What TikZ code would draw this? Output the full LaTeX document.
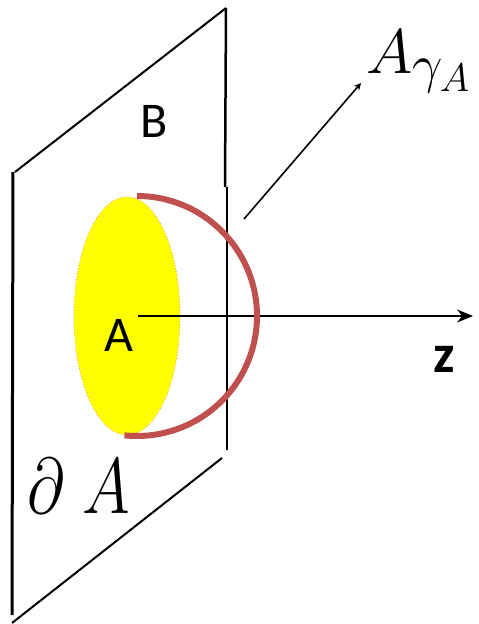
\RequirePackage{fix-cm}
\documentclass[tikz,border=0pt]{standalone}
\usepackage{fontspec}
\newfontfamily\carlito{Carlito}
\DeclareMathSizes{63}{63}{54}{40}
\usetikzlibrary{arrows.meta}
\definecolor{arcred}{RGB}{192,80,77}
\definecolor{diskyellow}{RGB}{255,255,0}
\definecolor{diskedge}{RGB}{240,150,40}
\tikzset{
  planeline/.style={black, line width=2pt},
  sidelabel/.style={font=\carlito\fontsize{50}{56}\selectfont, inner sep=0pt},
  axisline/.style={black, line width=2pt, -{Stealth[length=16pt, width=13pt]}},
  pointer/.style={black, line width=1.6pt, -{Stealth[length=7pt, width=7pt]}},
}
\begin{document}
\begin{tikzpicture}[x=1pt, y=-1pt]
\useasboundingbox (0,0) rectangle (479,624);
% plane
\coordinate (p1) at (13,172);
\coordinate (p2) at (226,8);
\coordinate (p4) at (12,615);
\coordinate (q1) at (15,172);
\coordinate (q3) at (222,458);
\coordinate (q4) at (12,623);
\draw[planeline, line width=3pt] (p1) -- (p4);
\draw[planeline] (q1) -- (p2);
\draw[planeline, line width=2.5pt] (p2) -- (225,187);
\draw[planeline, line width=1.6pt] (227,187) -- (227,450);
\draw[planeline] (q3) -- (q4);
% disk
\fill[diskyellow] (127,316) ellipse[x radius=53, y radius=119];
\draw[diskedge, line width=0.8pt, dotted] (127,316) ellipse[x radius=53, y radius=119];
% z axis
\coordinate (o) at (138,316);
\coordinate (zend) at (473,316);
\draw[axisline] (o) -- (zend);
% red hemisphere arc
\draw[arcred, line width=6pt] (137,196) arc[start angle=-90, end angle=96, radius=120];
% labels
\node[sidelabel] (B) at (154,121) {B};
\node[sidelabel] (A) at (119,335) {A};
\node[font=\carlito\bfseries\fontsize{54}{60}\selectfont, inner sep=0pt] (z) at (444,359) {z};
\node[anchor=base west, inner sep=0pt, font=\fontsize{63}{70}\selectfont] (Ag) at (366,73) {$A_{\gamma_A}$};
\node[anchor=base west, inner sep=0pt, font=\fontsize{79}{86}\selectfont, xscale=0.82] (dA) at (27,513) {$\partial\;A$};
% pointer
\coordinate (ps) at (244,219);
\coordinate (pe) at (361,83);
\draw[pointer] (ps) -- (pe);
\end{tikzpicture}
\end{document}
